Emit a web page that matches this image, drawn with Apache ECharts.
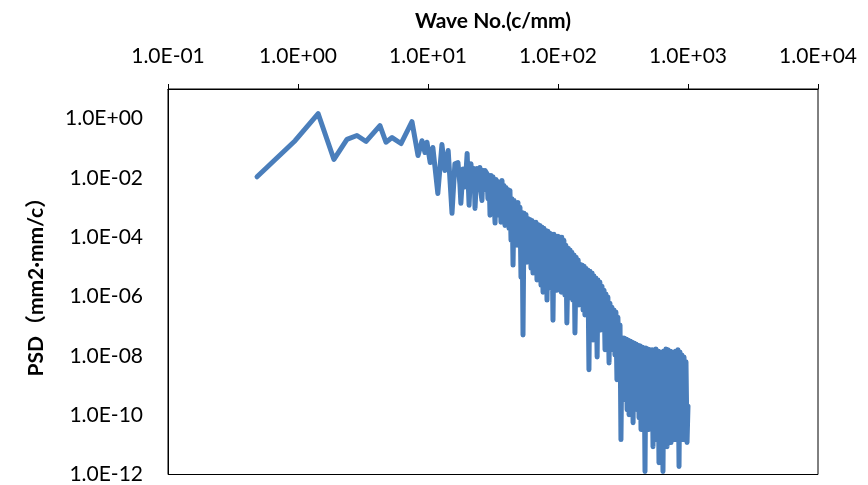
<!DOCTYPE html>
<html>
<head>
<meta charset="utf-8">
<script src="https://cdn.jsdelivr.net/npm/echarts@6/dist/echarts.min.js"></script>
<style>
html,body{margin:0;padding:0;background:#fff;}
#chart{width:868px;height:485px;}
</style>
</head>
<body>
<div id="chart"></div>
<script>
// Wave number (c/mm)
const waveNo = [
  0.484, 0.95, 1.43, 1.89, 2.38, 2.84, 3.34, 4.27, 4.75, 5.29, 6.2, 7.53, 8.38, 8.99, 9.48, 9.82,
  10.4, 10.9, 11.9, 12.8, 13.5, 14.3, 15.3,
  16.1, 17.0, 17.6, 17.9, 18.6, 19.3, 20.0, 20.7, 21.4, 22.2, 22.6, 23.0, 23.8, 24.2, 25.1, 25.6,
  26.0, 26.5, 27.0, 27.4, 28.4, 28.9, 29.5, 30.0, 30.5, 31.1, 31.6, 32.2,
  32.8, 33.4, 34.0, 34.6, 35.2, 35.8, 36.4, 37.1, 37.7, 38.4, 39.1, 39.8, 40.5, 41.2, 42.0, 42.7,
  43.5, 44.3, 45.1, 45.9, 46.7, 47.5, 48.4, 49.2, 50.1, 51.0, 51.9, 52.9, 53.8, 54.8, 55.7, 56.7,
  57.7, 58.8, 59.8, 60.9, 62.0, 63.1, 64.2, 65.4, 66.5, 67.7, 68.9, 70.2, 71.4, 72.7, 74.0, 75.3,
  76.7, 78.0, 79.4, 80.8, 82.3, 83.8, 85.3, 86.8, 88.4, 89.9, 91.5, 93.2, 94.8, 96.5, 98.3, 100,
  102, 104, 106, 107, 109, 111, 113, 115, 117, 120, 122, 124, 126, 128, 130, 133,
  135, 138, 140, 143, 145, 148, 150, 153, 156, 159, 161, 164, 167, 170, 173, 176,
  179, 183, 186, 189, 193, 196, 200, 203, 207, 210, 214, 218, 222, 226, 230, 234,
  238, 242, 247, 251, 256, 260, 265, 270, 274, 279, 284, 289, 295, 300, 305, 311,
  316, 322, 328, 334, 340, 346, 352, 358, 365, 371, 378, 384, 391, 398, 406, 413,
  420, 427, 435, 443, 451, 459, 467, 475, 484, 492, 501, 510, 519, 529, 538, 548,
  557, 567, 578, 588, 598, 609, 620, 631, 642, 654, 665, 677, 690, 702, 714, 727,
  740, 753, 767, 780, 794, 809, 823, 838, 853, 868, 884, 899, 916, 932, 949, 965,
  983, 1000
];
// PSD (mm2·mm/c)
const psd = [
  0.011, 0.18, 1.47, 0.042, 0.20, 0.27, 0.17, 0.58, 0.16, 0.23, 0.145, 0.79, 0.057, 0.18, 0.072, 0.16,
  0.033, 0.106, 0.003, 0.134, 0.018, 0.084, 6.4e-4,
  0.03, 0.033, 0.006, 0.0014, 0.02, 0.005, 0.067, 0.0012, 0.03, 0.004, 0.021, 9.4e-4, 0.021, 0.004, 0.0225, 0.003,
  0.00175, 0.018, 0.004, 0.018, 0.014, 0.002, 0.012, 5.5e-4, 0.012, 0.003, 0.011, 0.0096,
  3.0e-4, 0.0089, 5.5e-4, 0.0076, 0.00119, 0.0071, 3.2e-4, 0.0082, 6.9e-4, 0.0056, 2.5e-4, 0.0048, 4.3e-4, 0.0041, 2.0e-4, 0.0038,
  7.9e-5, 0.0020, 1.15e-5, 0.00175, 1.5e-4, 0.00139, 5.4e-5, 0.0015, 9.2e-5, 0.00102, 4.5e-6, 6.9e-4, 5.1e-8, 6.4e-4, 3.7e-5, 5.9e-4,
  1.44e-5, 4.3e-4, 5.4e-5, 4.0e-4, 9.1e-6, 3.7e-4, 6.2e-6, 3.2e-4, 2.5e-5, 3.2e-4, 3.6e-6, 2.7e-4, 1.44e-5, 2.5e-4, 2.4e-6, 2.2e-4,
  1.4e-6, 2.0e-4, 7.8e-6, 1.7e-4, 7.6e-7, 1.6e-4, 5.3e-6, 1.36e-4, 1.9e-6, 1.26e-4, 1.6e-7, 1.26e-4, 3.1e-6, 1.08e-4, 1.65e-6, 1.08e-4,
  4.2e-6, 1.0e-4, 1.4e-6, 1.0e-4, 2.4e-6, 7.9e-5, 1.12e-6, 5.4e-5, 1.29e-7, 4.3e-5, 1.65e-6, 3.7e-5, 8.9e-7, 3.1e-5, 7.6e-7, 2.5e-5,
  5.9e-8, 2.1e-5, 1.12e-6, 1.7e-5, 5.2e-7, 1.24e-5, 7.6e-7, 1.15e-5, 3.5e-7, 1.06e-5, 2.4e-7, 9.1e-6, 5.2e-7, 7.8e-6, 3.4e-9, 7.2e-6,
  3.0e-7, 6.2e-6, 3.4e-8, 4.9e-6, 1.9e-7, 4.2e-6, 9.2e-9, 3.6e-6, 1.39e-7, 3.1e-6, 7.5e-8, 2.25e-6, 1.1e-7, 1.65e-6, 1.6e-8, 1.21e-6,
  5.1e-8, 9.6e-7, 5.8e-9, 6.0e-7, 3.4e-8, 4.4e-7, 1.6e-8, 3.5e-7, 1.08e-8, 3.0e-7, 1.56e-9, 2.0e-7, 2.9e-9, 1.1e-7, 1.5e-11, 4.0e-8,
  4.9e-10, 4.0e-8, 3.3e-10, 3.7e-8, 1.53e-10, 3.4e-8, 1.04e-10, 3.2e-8, 2.25e-10, 2.95e-8, 5.6e-11, 2.7e-8, 3.3e-10, 2.5e-8, 1.53e-10, 2.3e-8,
  8.2e-11, 2.2e-8, 3.3e-11, 2.0e-8, 1.31e-10, 1.86e-8, 1.26e-12, 1.86e-8, 7.0e-11, 1.72e-8, 3.3e-11, 1.6e-8, 4.8e-11, 1.6e-8, 8.7e-12, 1.6e-8,
  3.8e-11, 1.72e-8, 1.5e-11, 1.47e-8, 2.5e-12, 1.36e-8, 4.8e-11, 1.36e-8, 1.26e-12, 1.47e-8, 2.2e-11, 1.72e-8, 8.7e-12, 1.6e-8, 3.3e-11, 1.47e-8,
  1.19e-11, 1.36e-8, 4.8e-11, 1.36e-8, 1.5e-11, 1.47e-8, 3.3e-11, 1.6e-8, 1.86e-12, 1.36e-8, 2.8e-11, 1.08e-8, 1.5e-11, 9.2e-9, 7.0e-11, 6.3e-9,
  1.2e-11, 2.0e-10
];
const xTickMin = 0.1, xTickMax = 1e4;
const yTickMin = 1e-12, yTickMax = 10;

function sci(v) {
  const e = Math.round(Math.log10(v));
  const a = Math.abs(e);
  return '1.0E' + (e < 0 ? '-' : '+') + (a < 10 ? '0' : '') + a;
}

const chart = echarts.init(document.getElementById('chart'), null, {renderer: 'canvas'});
const font = 'Lato, "Noto Sans CJK SC", sans-serif';
chart.setOption({
  animation: false,
  backgroundColor: '#fff',
  grid: {left: 168, right: 50, top: 89, bottom: 10, show: true, borderColor: '#000', borderWidth: 1, backgroundColor: 'transparent'},
  xAxis: {
    type: 'log', logBase: 10, position: 'top', min: xTickMin, max: xTickMax,
    name: 'Wave No.(c/mm)', nameLocation: 'middle', nameGap: 57,
    nameTextStyle: {fontFamily: font, fontWeight: 'bold', fontSize: 21, color: '#000'},
    axisLine: {show: true, lineStyle: {color: '#000', width: 1}},
    axisTick: {show: true, inside: false, length: 5, lineStyle: {color: '#000'}},
    axisLabel: {fontFamily: font, fontSize: 21, color: '#000', margin: 22, formatter: sci},
    splitLine: {show: false}, minorTick: {show: false}
  },
  yAxis: {
    type: 'log', logBase: 100, min: yTickMin, max: yTickMax,
    name: 'PSD（mm2·mm/c）', nameLocation: 'middle', nameGap: 121, nameRotate: 90,
    nameTextStyle: {fontFamily: font, fontWeight: 'bold', fontSize: 21, color: '#000'},
    axisLine: {show: true, lineStyle: {color: '#000', width: 1}},
    axisTick: {show: false},
    axisLabel: {fontFamily: font, fontSize: 21, color: '#000', margin: 25, showMaxLabel: false,
      formatter: function (v) { return v > 1.5 ? '' : sci(v); }},
    splitLine: {show: false}
  },
  series: [{
    type: 'line',
    data: waveNo.map((x, i) => [x, psd[i]]),
    showSymbol: false, symbol: 'none',
    lineStyle: {color: '#4A7EBB', width: 5, join: 'round', cap: 'round'},
    z: 2
  }]
});
</script>
</body>
</html>
